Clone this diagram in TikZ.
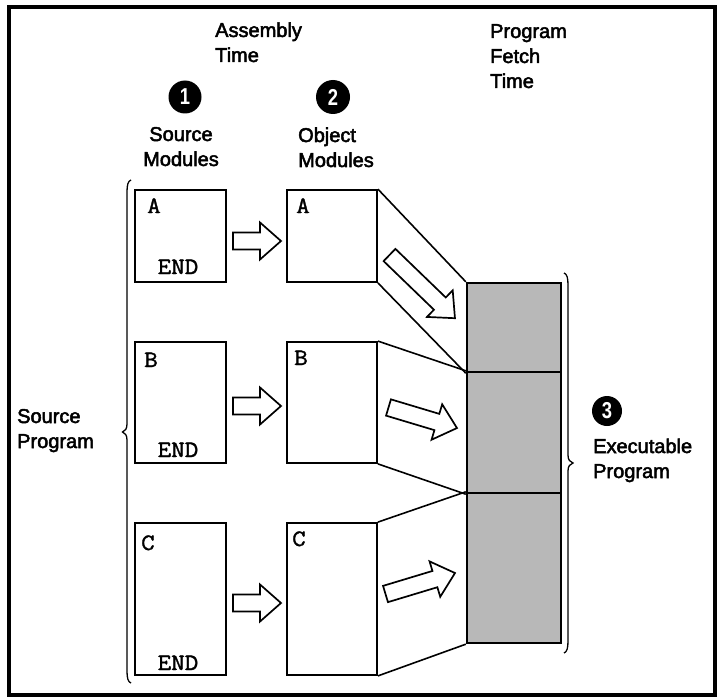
\documentclass[tikz,border=0pt]{standalone}
\usepackage{fontspec}
\usepackage{graphicx}
\setmainfont{Liberation Sans}
\newfontfamily\lblfont[FakeBold=2.5]{Liberation Sans}
\newfontfamily\boxfont[FakeBold=1.4,FakeStretch=1.12]{Latin Modern Mono}
\definecolor{stip}{gray}{0.72}
\newcommand\blockarrow[4]{%
  \draw[arrowshape, shift={(#1,#2)}, rotate=#3]
    (0,-8.5) -- ({#4-21},-8.5) -- ({#4-21},-18.5) -- (#4,0) --
    ({#4-21},18.5) -- ({#4-21},8.5) -- (0,8.5) -- cycle;}
\begin{document}
\begin{tikzpicture}[x=1pt,y=-1pt,
  box/.style={draw, line width=1.8pt, inner sep=0pt, fill=white},
  exe/.style={draw, line width=2.4pt, inner sep=0pt, fill=stip, minimum width=94pt},
  conn/.style={line width=1.6pt},
  arrowshape/.style={draw, line width=1.7pt, fill=white, line join=miter},
  brc/.style={line width=1.3pt},
  lbl/.style={font=\lblfont\fontsize{20}{25}\selectfont, inner sep=0pt},
  tt/.style={font=\boxfont\fontsize{23.5}{23.5}\selectfont, inner sep=0pt},
  circ/.style={circle, fill=black, minimum size=33pt, inner sep=0pt, text=white,
    font=\bfseries\fontsize{23}{23}\selectfont}]
\useasboundingbox (0,0) rectangle (723,698);
\draw[line width=3.5pt] (9,7) rectangle (715,695);

% headings (base anchor = baseline of last line)
\node[lbl, align=left, anchor=base west] (asm) at (215,62) {Assembly\\Time};
\node[lbl, align=left, anchor=base west] (pft) at (490,88) {Program\\Fetch\\Time};
\node[circ] (c1) at (185,97) {\scalebox{0.8}[1]{1}};
\node[circ, minimum size=34pt] (c2) at (333,97) {\scalebox{0.8}[1]{2}};
\node[lbl, align=center, anchor=base] (srcm) at (181,166) {Source\\Modules};
\node[lbl, align=left, anchor=base west] (objm) at (298,167) {Object\\Modules};
\node[lbl, align=left, anchor=base west] (srcp) at (17,448) {Source\\Program};
\node[circ, minimum size=30pt] (c3) at (607,411) {\scalebox{0.8}[1]{3}};
\node[lbl, align=left, anchor=base west] (exep) at (593,478) {Executable\\Program};

% executable program column
\node[exe, minimum height=89pt] (exA) at (514,327.5) {};
\node[exe, minimum height=121pt] (exB) at (514,432.5) {};
\node[exe, minimum height=150pt] (exC) at (514,568) {};

% source modules
\node[box, minimum width=91pt, minimum height=92pt] (srcA) at (180.5,236) {};
\node[box, minimum width=91pt, minimum height=121pt] (srcB) at (180.5,402.5) {};
\node[box, minimum width=91pt, minimum height=152pt] (srcC) at (180.5,599) {};
% object modules
\node[box, minimum width=90pt, minimum height=92pt] (objA) at (332,236) {};
\node[box, minimum width=90pt, minimum height=121pt] (objB) at (332,402.5) {};
\node[box, minimum width=90pt, minimum height=152pt] (objC) at (332,599) {};

% projection lines
\draw[conn] (objA.north east) -- (exA.north west);
\draw[conn] (objA.south east) -- (exA.south west);
\draw[conn] (objB.north east) -- (exB.north west);
\draw[conn] (objB.south east) -- (exB.south west);
\draw[conn] (objC.north east) -- (exC.north west);
\draw[conn] (objC.south east) -- (exC.south west);

% box texts
\node[tt, anchor=base west] (tA1) at (147,213) {A};
\node[tt, anchor=base west] (tA2) at (296,213) {A};
\node[tt, anchor=base] (eA) at (178,274) {END};
\node[tt, anchor=base west] (tB1) at (144,367) {B};
\node[tt, anchor=base west] (tB2) at (294,365) {B};
\node[tt, anchor=base] (eB) at (178,457) {END};
\node[tt, anchor=base west] (tC1) at (141,550) {C};
\node[tt, anchor=base west] (tC2) at (292,546) {C};
\node[tt, anchor=base] (eC) at (178,670) {END};

% block arrows
\blockarrow{233}{241}{0}{48}
\blockarrow{233}{406}{0}{48}
\blockarrow{233}{603}{0}{48}
\blockarrow{389.5}{255}{-44}{91}
\blockarrow{388.5}{407.5}{-16.7}{71.5}
\blockarrow{385.5}{594}{16.8}{72.6}

% braces
\draw[brc] (131,180) .. controls (128,181) and (127,185) .. (127,192) -- (127,424)
  .. controls (127,429) and (125,431) .. (122.5,432) .. controls (125,433) and (127,435) .. (127,440)
  -- (127,671) .. controls (127,678) and (128,682) .. (131,683);
\draw[brc] (564,273) .. controls (567,274) and (568,278) .. (568,285) -- (568,455)
  .. controls (568,460) and (570,462) .. (573,463) .. controls (570,464) and (568,466) .. (568,471)
  -- (568,641) .. controls (568,648) and (567,652) .. (564,653);
\end{tikzpicture}
\end{document}
